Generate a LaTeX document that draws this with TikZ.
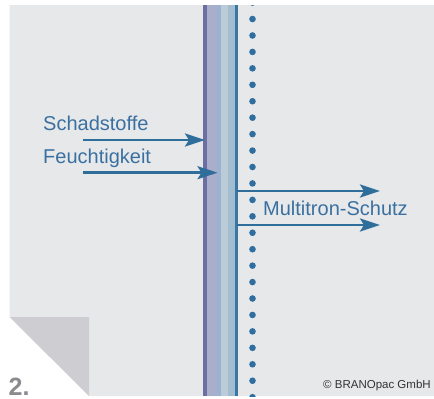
\documentclass[tikz,border=0pt]{standalone}
\usepackage{fontspec}
\setmainfont{Liberation Sans}
\usetikzlibrary{arrows.meta}
\definecolor{pagegray}{HTML}{E7E8EA}
\definecolor{foldgray}{HTML}{CECDD1}
\definecolor{arrowblue}{HTML}{2F6E9A}
\definecolor{textblue}{HTML}{3A70A0}
\definecolor{layA}{HTML}{6B6FA1}
\definecolor{layB}{HTML}{A9AECB}
\definecolor{layC}{HTML}{9BB2D3}
\definecolor{layD}{HTML}{BCCBD8}
\definecolor{layE}{HTML}{A2BDD0}
\definecolor{layF}{HTML}{3B78A1}
\definecolor{dotblue}{HTML}{2F6E9F}
\definecolor{numgray}{HTML}{8A8A8F}
\begin{document}
\begin{tikzpicture}[x=1pt,y=-1pt,
  flow/.style={draw=arrowblue,line width=2.7pt,-{Stealth[length=20pt,width=13pt,inset=4pt]}},
  lbl/.style={inner sep=0pt,anchor=base west,text=textblue,font=\fontsize{20}{22}\selectfont}]
\useasboundingbox (0,0) rectangle (434,399);
\fill[white] (0,0) rectangle (434,399);
% page
\fill[pagegray] (9.5,5) -- (434,5) -- (434,396) -- (89,396) -- (89,317) -- (9.5,317) -- cycle;
\fill[foldgray] (9.5,317) -- (89,317) -- (89,396) -- cycle;
% layers
\fill[layA] (203.3,5) rectangle (206.7,396);
\fill[layB] (206.7,5) rectangle (217.3,396);
\fill[layC] (217.3,5) rectangle (221,396);
\fill[layD] (221,5) rectangle (227.7,396);
\fill[layE] (227.7,5) rectangle (235,396);
\fill[layF] (235,5) rectangle (238.3,396);
% dots
\begin{scope}
\clip (9.5,5) rectangle (434,396);
\foreach \k in {0,...,24} {\fill[dotblue] (252.5,2.6+16.44*\k) circle (3.3);}
\end{scope}
% labels
\node[lbl] (schad) at (43,130) {Schadstoffe};
\node[lbl] (feucht) at (43,163) {Feuchtigkeit};
\node[lbl] (multi) at (263,215) {Multitron-Schutz};
% arrow endpoints
\coordinate (s0) at (83,140); \coordinate (s1) at (205,140);
\coordinate (f0) at (83,172.7); \coordinate (f1) at (217.5,172.7);
\coordinate (m0) at (237,191); \coordinate (m1) at (380,191);
\coordinate (n0) at (237,225); \coordinate (n1) at (380,225);
\draw[flow] (s0) -- (s1);
\draw[flow] (f0) -- (f1);
\draw[flow] (m0) -- (m1);
\draw[flow] (n0) -- (n1);
% number and copyright
\node[inner sep=0pt,anchor=base west,text=numgray,font=\fontsize{25}{28}\bfseries] (num) at (8.5,395) {2.};
\node[inner sep=0pt,anchor=base west,text=black!80,font=\fontsize{11.5}{13}\selectfont] (copy) at (323,388.5) {© BRANOpac GmbH};
\end{tikzpicture}
\end{document}
